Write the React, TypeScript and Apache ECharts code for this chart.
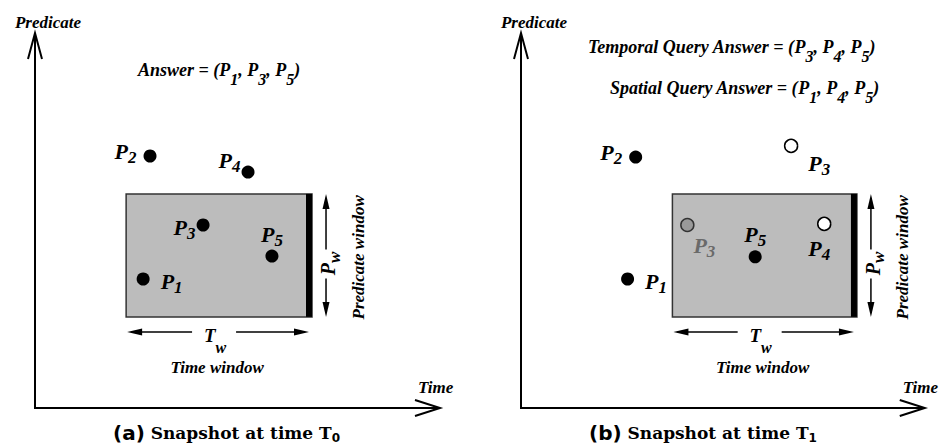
import React, { useEffect, useRef } from 'react';
import * as echarts from 'echarts';

// ---- data ----
const namesT0 = ['P1', 'P2', 'P3', 'P4', 'P5'];
const timeT0 = [26.7, 28.4, 41.5, 52.6, 58.5];
const predT0 = [34.4, 67.2, 48.8, 62.9, 40.5];

const namesT1 = ['P1', 'P2', 'P3', 'P3', 'P5', 'P4'];
const timeT1 = [26.4, 28.4, 66.9, 41.2, 58.0, 75.1];
const predT1 = [34.4, 66.9, 69.9, 48.8, 40.3, 49.1];
const kindT1 = ['current', 'current', 'moved', 'previous', 'current', 'moved'];

const timeWindowT0 = [22.5, 68.4];
const timeWindowT1 = [37.5, 83.2];
const predicateWindow = [24.3, 57.1];

const answerT0 = ['P1', 'P3', 'P5'];
const temporalAnswerT1 = ['P3', 'P4', 'P5'];
const spatialAnswerT1 = ['P1', 'P4', 'P5'];

const axisNames = { x: 'Time', y: 'Predicate' };
const captionTags = ['(a)', '(b)'];
const captionSubs = ['0', '1'];

// ---- style ----
const SERIF = 'Liberation Serif, Times New Roman, serif';
const bi = (size: number, color = '#000') => ({
  fontFamily: SERIF, fontWeight: 'bold', fontStyle: 'italic', fontSize: size, color, fill: color,
});

const labelLayoutT0: any[] = [
  { position: 'right', distance: 11, offset: [0, 2] },
  { position: 'left', distance: 7, offset: [0, -5] },
  { position: 'left', distance: 1, offset: [0, 2] },
  { position: 'left', distance: 1, offset: [0, -12] },
  { position: 'top', distance: 1, offset: [0, 0] },
];
const labelLayoutT1: any[] = [
  { position: 'right', distance: 11, offset: [0, 2] },
  { position: 'left', distance: 7, offset: [0, -5] },
  { position: 'right', distance: 8, offset: [2, 18] },
  { position: 'bottom', distance: 1, offset: [17, -2] },
  { position: 'top', distance: 1, offset: [0, 0] },
  { position: 'bottom', distance: 3, offset: [-5, 0] },
];

const pointRich = (color: string) => ({
  p: bi(22, color),
  s: { ...bi(17, color), padding: [12, 0, 0, 0] },
});

const itemStyleFor = (kind: string) => {
  if (kind === 'moved') return { color: '#fff', borderColor: '#000', borderWidth: 1.5, opacity: 1 };
  if (kind === 'previous') return { color: '#9a9a9a', borderColor: '#333', borderWidth: 1.5, opacity: 1 };
  return { color: '#000', opacity: 1 };
};

const answerText = (prefix: string, pts: string[]) =>
  `{a|${prefix} = (}` + pts.map((p) => `{a|P}{s|${p.slice(1)}}`).join('{a|, }') + '{a|)}';

const answerRich = {
  a: bi(18),
  s: { ...bi(16), padding: [18, 0, 0, 0] },
};

function axesRenderer(params: any, api: any) {
  const o = api.coord([0, 0]);
  const top = api.coord([0, 100]);
  const right = api.coord([100, 0]);
  const ls = { stroke: '#000', lineWidth: 2, fill: 'none' };
  return {
    type: 'group',
    children: [
      { type: 'polyline', shape: { points: [[o[0], o[1]], [top[0], top[1]]] }, style: ls },
      { type: 'polyline', shape: { points: [[o[0] - 1, o[1]], [right[0], right[1]]] }, style: ls },
      { type: 'polyline', shape: { points: [[top[0] - 7, top[1] + 26], [top[0], top[1]], [top[0] + 7, top[1] + 26]] }, style: ls },
      { type: 'polyline', shape: { points: [[right[0] - 25, right[1] - 8], [right[0], right[1]], [right[0] - 25, right[1] + 8]] }, style: ls },
    ],
  };
}

function windowRenderer(params: any, api: any) {
  const x0 = api.value(0), x1 = api.value(1), y0 = api.value(2), y1 = api.value(3);
  const [L, T] = api.coord([x0, y1]);
  const [R, B] = api.coord([x1, y0]);
  const cx = (L + R) / 2;
  const mid = (T + B) / 2;
  const ax = R + 14;
  const ay = B + 15;
  const line = { stroke: '#000', lineWidth: 1.5, fill: 'none' };
  const head = { fill: '#000' };
  return {
    type: 'group',
    children: [
      { type: 'rect', shape: { x: L, y: T, width: R - L, height: B - T }, style: { fill: '#bcbcbc', stroke: '#333', lineWidth: 1.5 } },
      { type: 'rect', shape: { x: R - 6, y: T, width: 6, height: B - T }, style: { fill: '#000' } },
      // predicate window arrow
      { type: 'polyline', shape: { points: [[ax, T + 4], [ax, mid - 6]] }, style: line },
      { type: 'polygon', shape: { points: [[ax, T], [ax - 3.5, T + 15], [ax + 3.5, T + 15]] }, style: head },
      { type: 'polyline', shape: { points: [[ax, mid + 23], [ax, B - 4]] }, style: line },
      { type: 'polygon', shape: { points: [[ax, B], [ax - 3.5, B - 15], [ax + 3.5, B - 15]] }, style: head },
      // time window arrow
      { type: 'polyline', shape: { points: [[L + 5, ay], [cx - 27, ay]] }, style: line },
      { type: 'polygon', shape: { points: [[L + 1, ay], [L + 16, ay - 3.5], [L + 16, ay + 3.5]] }, style: head },
      { type: 'polyline', shape: { points: [[cx + 17, ay], [R - 7, ay]] }, style: line },
      { type: 'polygon', shape: { points: [[R - 3, ay], [R - 18, ay - 3.5], [R - 18, ay + 3.5]] }, style: head },
      {
        type: 'text', x: R + 16, y: mid + 8, rotation: Math.PI / 2,
        style: { text: '{p|P}{s|w}', align: 'center', verticalAlign: 'middle', rich: { p: bi(20), s: { ...bi(17), padding: [12, 0, 0, 0] } } },
      },
      {
        type: 'text', x: cx - 4, y: B + 19,
        style: { text: '{t|T}{s|w}', align: 'center', verticalAlign: 'middle', rich: { t: bi(19), s: { ...bi(16), padding: [24, 0, 0, 0] } } },
      },
      { type: 'text', x: cx - 2, y: B + 51, style: { text: 'Time window', align: 'center', verticalAlign: 'middle', ...bi(17) } },
      {
        type: 'text', x: R + 46, y: mid + 2, rotation: Math.PI / 2,
        style: { text: 'Predicate window', align: 'center', verticalAlign: 'middle', ...bi(17) },
      },
    ],
  };
}

const axisPair = (gi: number) => ({
  x: {
    type: 'value', gridIndex: gi, min: 0, max: 100,
    axisLine: { show: false }, axisTick: { show: false }, axisLabel: { show: false }, splitLine: { show: false },
    name: axisNames.x, nameLocation: 'end', nameGap: -22,
    nameTextStyle: { ...bi(17), verticalAlign: 'bottom', padding: [0, 0, 12, 0] },
  },
  y: {
    type: 'value', gridIndex: gi, min: 0, max: 100,
    axisLine: { show: false }, axisTick: { show: false }, axisLabel: { show: false }, splitLine: { show: false },
    name: axisNames.y, nameLocation: 'end', nameGap: 2,
    nameTextStyle: { ...bi(17), padding: [0, 0, 0, 26] },
  },
});

export default function App() {
  const ref = useRef<HTMLDivElement>(null);
  useEffect(() => {
    if (!ref.current) return;
    const chart = echarts.init(ref.current, undefined, { renderer: 'svg' });
    const a0 = axisPair(0);
    const a1 = axisPair(1);

    const scatterT0 = namesT0.map((n, i) => ({
      name: n,
      value: [timeT0[i], predT0[i]],
      itemStyle: itemStyleFor('current'),
      label: { show: true, formatter: `{p|P}{s|${n.slice(1)}}`, rich: pointRich('#000'), ...labelLayoutT0[i] },
    }));
    const scatterT1 = namesT1.map((n, i) => {
      const c = kindT1[i] === 'previous' ? '#6a6a6a' : '#000';
      return {
        name: n,
        value: [timeT1[i], predT1[i]],
        itemStyle: itemStyleFor(kindT1[i]),
        label: { show: true, formatter: `{p|P}{s|${n.slice(1)}}`, rich: pointRich(c), ...labelLayoutT1[i] },
      };
    });

    const captionText = (i: number) => `{b|${captionTags[i]}}{c| Snapshot at time T}{d|${captionSubs[i]}}`;
    const captionRich = {
      b: { fontFamily: 'DejaVu Sans, sans-serif', fontWeight: 'bold', fontSize: 20, color: '#000' },
      c: { fontFamily: 'DejaVu Serif, serif', fontWeight: 'bold', fontSize: 17, color: '#000' },
      d: { fontFamily: 'DejaVu Sans, sans-serif', fontSize: 12, color: '#000', padding: [10, 0, 0, 0] },
    };

    chart.setOption({
      animation: false,
      backgroundColor: '#fff',
      title: [
        { text: answerText('Answer', answerT0), left: 133, top: 48, textStyle: { rich: answerRich } },
        { text: answerText('Temporal Query Answer', temporalAnswerT1), left: 583, top: 25, textStyle: { rich: answerRich } },
        { text: answerText('Spatial Query Answer', spatialAnswerT1), left: 605, top: 66, textStyle: { rich: answerRich } },
        { text: captionText(0), left: 108, top: 417, textStyle: { rich: captionRich } },
        { text: captionText(1), left: 584, top: 417, textStyle: { rich: captionRich } },
      ],
      grid: [
        { left: 35, top: 33, width: 405, height: 375 },
        { left: 521, top: 33, width: 404, height: 375 },
      ],
      xAxis: [a0.x, a1.x],
      yAxis: [a0.y, a1.y],
      series: [
        { type: 'custom', xAxisIndex: 0, yAxisIndex: 0, z: 1, renderItem: axesRenderer, data: [[0, 0]], silent: true },
        { type: 'custom', xAxisIndex: 1, yAxisIndex: 1, z: 1, renderItem: axesRenderer, data: [[0, 0]], silent: true },
        {
          type: 'custom', xAxisIndex: 0, yAxisIndex: 0, z: 1, renderItem: windowRenderer, silent: true,
          data: [[timeWindowT0[0], timeWindowT0[1], predicateWindow[0], predicateWindow[1]]],
        },
        {
          type: 'custom', xAxisIndex: 1, yAxisIndex: 1, z: 1, renderItem: windowRenderer, silent: true,
          data: [[timeWindowT1[0], timeWindowT1[1], predicateWindow[0], predicateWindow[1]]],
        },
        { type: 'scatter', xAxisIndex: 0, yAxisIndex: 0, z: 3, symbolSize: 13, data: scatterT0 },
        { type: 'scatter', xAxisIndex: 1, yAxisIndex: 1, z: 3, symbolSize: 13, data: scatterT1 },
      ],
    });
    return () => chart.dispose();
  }, []);
  return <div ref={ref} style={{ position: 'absolute', left: 0, top: 0, width: 941, height: 448, background: '#fff' }} />;
}
